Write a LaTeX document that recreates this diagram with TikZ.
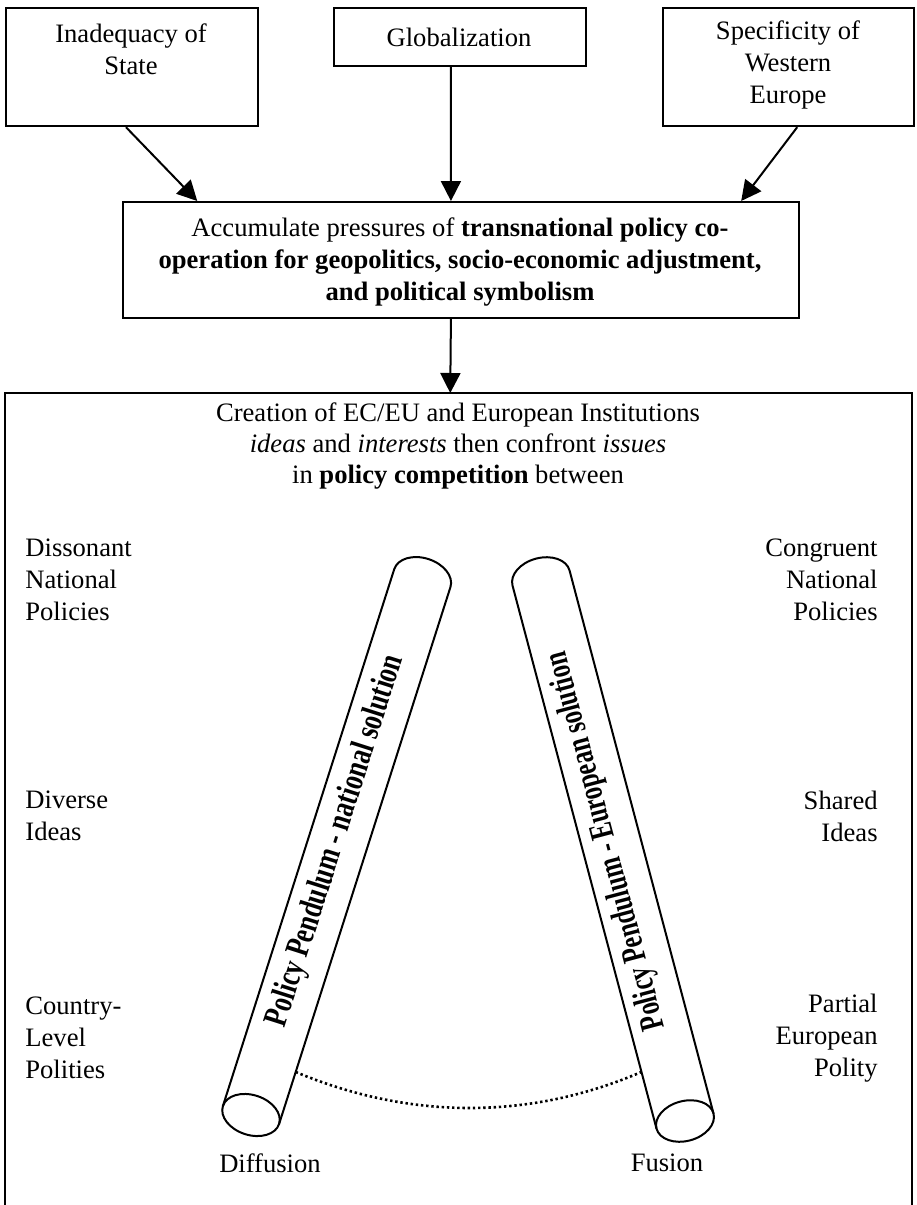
\documentclass[tikz,border=0pt]{standalone}
\usepackage{fontspec}
\setmainfont{Liberation Serif}
\usetikzlibrary{arrows.meta,calc}
\begin{document}
\begin{tikzpicture}[x=0.5pt,y=-0.5pt,
  box/.style={draw,line width=1.1pt,inner sep=0pt},
  txt/.style={font=\fontsize{13.3}{16}\selectfont,align=center,inner sep=0pt},
  arr/.style={line width=1pt,-{Triangle[length=10pt,width=10pt]}},
  cyl/.style={line width=1pt},
  ctext/.style={font=\fontsize{17}{18}\selectfont\bfseries,inner sep=0pt}]
\useasboundingbox (0,0) rectangle (916,1205);

% top boxes
\node[box,minimum width=126pt,minimum height=59pt,anchor=north west] (b1) at (5,7) {};
\node[txt] (b1t) at (131,49) {Inadequacy of\\State};
\node[box,minimum width=126pt,minimum height=29pt,anchor=north west] (b2) at (333,7) {};
\node[txt] (b2t) at (459,37) {Globalization};
\node[box,minimum width=125.5pt,minimum height=59pt,anchor=north west] (b3) at (662,7) {};
\node[txt] (b3t) at (788,65) {Specificity of\\Western\\Europe};

% middle box
\node[box,minimum width=338pt,minimum height=58pt,anchor=north west] (mid) at (122,201) {};
\node[txt] (midt) at (460,262) {Accumulate pressures of \textbf{transnational policy co-}\\
  \textbf{operation for geopolitics, socio-economic adjustment,}\\
  \textbf{and political symbolism}};

\draw[arr] ($(b1.south west)!0.476!(b1.south east)$) -- ($(mid.north west)!0.111!(mid.north east)$);
\draw[arr] ($(b2.south west)!0.464!(b2.south east)$) -- ($(mid.north west)!0.485!(mid.north east)$);
\draw[arr] ($(b3.south west)!0.534!(b3.south east)$) -- ($(mid.north west)!0.913!(mid.north east)$);

% big box (open at bottom)
\node[minimum width=453pt,minimum height=406pt,anchor=north west,inner sep=0pt] (big) at (5,393) {};
\draw[line width=1.1pt] (big.south west) -- (big.north west) -- (big.north east) -- (big.south east);
\draw[arr] ($(mid.south west)!0.485!(mid.south east)$) -- ($(big.north west)!0.491!(big.north east)$);

\node[txt,anchor=base] (t1) at (458,421) {Creation of EC/EU and European Institutions};
\node[txt,anchor=base] (t2) at (458,452) {\textit{ideas} and \textit{interests} then confront \textit{issues}};
\node[txt,anchor=base] (t3) at (458,483) {in \textbf{policy competition} between};

\node[txt,align=left,anchor=west] (l1) at (25,580) {Dissonant\\National\\Policies};
\node[txt,align=left,anchor=west] (l2) at (25,816) {Diverse\\Ideas};
\node[txt,align=left,anchor=west] (l3) at (25,1038) {Country-\\Level\\Polities};
\node[txt,align=right,anchor=east] (r1) at (878,580) {Congruent\\National\\Policies};
\node[txt,align=right,anchor=east] (r2) at (878,816) {Shared\\Ideas};
\node[txt,align=right,anchor=east] (r3) at (878,1038) {Partial\\European\\Polity};

\node[txt] (diff) at (270,1163) {Diffusion};
\node[txt] (fus) at (667,1163) {Fusion};

% left cylinder
\begin{scope}[shift={(251,1115)},rotate=-17.7]
  \draw[cyl] (0pt,0pt) ellipse [x radius=14.75pt,y radius=10pt];
  \draw[cyl] (-14.75pt,0pt) -- (-14.75pt,281.8pt) arc[start angle=180,end angle=0,x radius=14.75pt,y radius=10pt] -- (14.75pt,0pt);
  \coordinate (lc) at (14.75pt,27.3pt);
\end{scope}
% right cylinder
\begin{scope}[shift={(685,1121)},rotate=14.85]
  \draw[cyl] (0pt,0pt) ellipse [x radius=14.75pt,y radius=10pt];
  \draw[cyl] (-14.75pt,0pt) -- (-14.75pt,280.9pt) arc[start angle=180,end angle=0,x radius=14.75pt,y radius=10pt] -- (14.75pt,0pt);
  \coordinate (rc) at (-14.75pt,29.3pt);
\end{scope}

\node[ctext,rotate=72.3] (lct) at (336,841) {\scalebox{0.75}[1]{Policy Pendulum - national solution}};
\node[ctext,rotate=104.85] (rct) at (607,841) {\scalebox{0.72}[1]{Policy Pendulum - European solution}};

\draw[line width=1.3pt,dash pattern=on 1.2pt off 1.4pt] (lc) .. controls (410,1120) and (530,1120) .. (rc);
\end{tikzpicture}
\end{document}
